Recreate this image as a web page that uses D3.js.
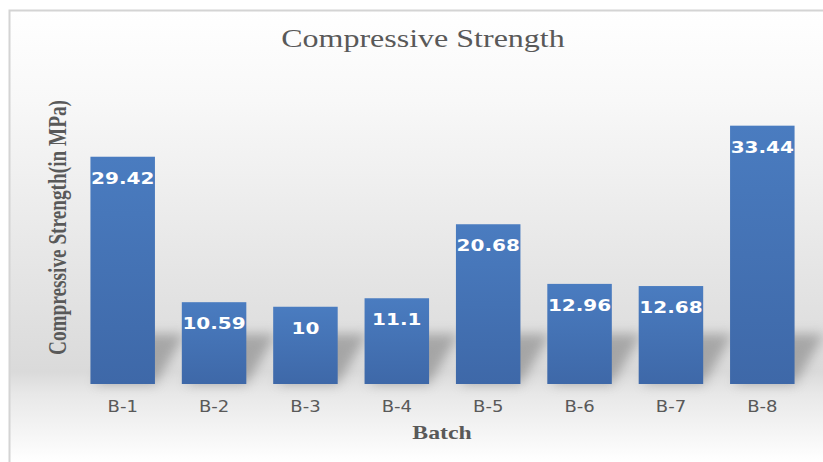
<!DOCTYPE html>
<html>
<head>
<meta charset="utf-8">
<script src="https://cdn.jsdelivr.net/npm/d3@7"></script>
<style>
  html, body { margin: 0; padding: 0; background: #ffffff; }
  svg { display: block; }
</style>
</head>
<body>
<svg id="chart" width="823" height="462"></svg>
<script>
const categories = ["B-1", "B-2", "B-3", "B-4", "B-5", "B-6", "B-7", "B-8"];
const values = [29.42, 10.59, 10, 11.1, 20.68, 12.96, 12.68, 33.44];
const valueLabels = ["29.42", "10.59", "10", "11.1", "20.68", "12.96", "12.68", "33.44"];
const yDomain = [0, 40];
const chartTitle = "Compressive Strength";
const xTitle = "Batch";
const yTitle = "Compressive Strength(in MPa)";

const W = 823, H = 462;
const svg = d3.select("#chart");
const defs = svg.append("defs");

// background gradient
const bg = defs.append("linearGradient").attr("id", "bg")
  .attr("x1", 0).attr("y1", 0).attr("x2", 0).attr("y2", 1);
bg.append("stop").attr("offset", "0%").attr("stop-color", "#ffffff");
bg.append("stop").attr("offset", "20%").attr("stop-color", "#f8f8f8");
bg.append("stop").attr("offset", "80%").attr("stop-color", "#dadada");
bg.append("stop").attr("offset", "85%").attr("stop-color", "#e8e8e8");
bg.append("stop").attr("offset", "100%").attr("stop-color", "#ffffff");

const barGrad = defs.append("linearGradient").attr("id", "barGrad")
  .attr("x1", 0).attr("y1", 0).attr("x2", 0).attr("y2", 1);
barGrad.append("stop").attr("offset", "0%").attr("stop-color", "#4a7cc0");
barGrad.append("stop").attr("offset", "100%").attr("stop-color", "#3e68a8");

const blur = defs.append("filter").attr("id", "blur")
  .attr("x", "-50%").attr("y", "-50%").attr("width", "200%").attr("height", "200%");
blur.append("feGaussianBlur").attr("stdDeviation", 6);

svg.append("rect").attr("x", 9).attr("y", 10).attr("width", W - 9).attr("height", H - 10)
  .attr("fill", "url(#bg)");
svg.append("path").attr("d", `M9.5,${H} V10.5 H${W}`)
  .attr("fill", "none").attr("stroke", "#d4d4d4").attr("stroke-width", 2);

const x = d3.scaleBand().domain(categories).range([77, 808])
  .paddingInner(0.294).paddingOuter(0.147);
const y = d3.scaleLinear().domain(yDomain).range([384, 75]);

const data = categories.map((c, i) => ({ c, v: values[i], label: valueLabels[i] }));

// perspective shadows
const base = y(0);
svg.append("g").selectAll("path").data(data).join("path")
  .attr("d", d => {
    const x0 = x(d.c) + 4, x1 = x(d.c) + x.bandwidth();
    const h = Math.min(base - y(d.v), 50), dx = 30;
    return `M${x0},${base} L${x1},${base} L${x1 + dx},${base - h} L${x0 + dx},${base - h} Z`;
  })
  .attr("fill", "#707070").attr("opacity", 0.5).attr("filter", "url(#blur)");

// bars
svg.append("g").selectAll("rect").data(data).join("rect")
  .attr("x", d => x(d.c)).attr("y", d => y(d.v))
  .attr("width", x.bandwidth()).attr("height", d => y(0) - y(d.v))
  .attr("fill", "url(#barGrad)");

function stretch(sel, f) {
  sel.each(function () {
    const l = this.getComputedTextLength();
    d3.select(this).attr("textLength", l * f).attr("lengthAdjust", "spacingAndGlyphs");
  });
}

// value labels
svg.append("g").selectAll("text").data(data).join("text")
  .attr("x", d => x(d.c) + x.bandwidth() / 2)
  .attr("y", d => y(d.v) + 27)
  .attr("text-anchor", "middle")
  .attr("font-family", "DejaVu Sans, sans-serif").attr("font-weight", "bold")
  .attr("font-size", 16).attr("fill", "#ffffff")
  .text(d => d.label)
  .call(stretch, 1.25);

// x axis labels
const xAxis = svg.append("g").attr("transform", `translate(0,${base})`)
  .call(d3.axisBottom(x).tickSize(0).tickPadding(28));
xAxis.select(".domain").remove();
xAxis.selectAll("text")
  .attr("font-family", "DejaVu Sans, sans-serif").attr("font-size", 15)
  .attr("fill", "#595959").attr("dy", 0)
  .call(stretch, 1.2);

// title
svg.append("text").attr("x", 423).attr("y", 47).attr("text-anchor", "middle")
  .attr("font-family", "Liberation Serif, Times New Roman, serif")
  .attr("font-size", 25).attr("fill", "#595959").text(chartTitle)
  .call(stretch, 1.28);

// x title
svg.append("text").attr("x", 442).attr("y", 439).attr("text-anchor", "middle")
  .attr("font-family", "Liberation Serif, Times New Roman, serif").attr("font-weight", "bold")
  .attr("font-size", 19).attr("fill", "#595959").text(xTitle)
  .call(stretch, 1.25);

// y title
svg.append("text")
  .attr("transform", "translate(66,227.5) scale(1.25,1) rotate(-90)")
  .attr("text-anchor", "middle")
  .attr("font-family", "Liberation Serif, Times New Roman, serif").attr("font-weight", "bold")
  .attr("font-size", 20).attr("fill", "#595959").text(yTitle)
  .attr("textLength", 255).attr("lengthAdjust", "spacingAndGlyphs");
</script>
</body>
</html>
